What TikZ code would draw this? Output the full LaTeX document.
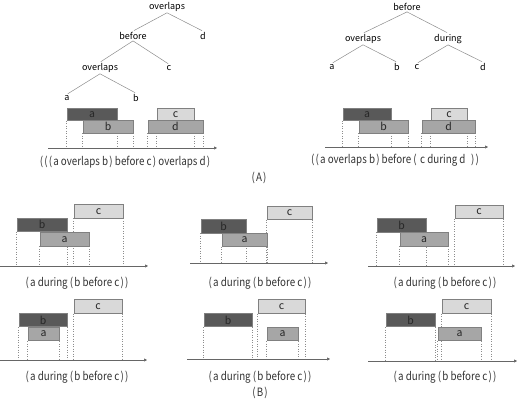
\documentclass[tikz,border=0pt]{standalone}
\usepackage{fontspec}
\setsansfont{Noto Sans CJK KR}
\newfontfamily\capfont[FakeStretch=0.85]{Noto Sans CJK KR}
\usetikzlibrary{positioning, arrows.meta, backgrounds}

\definecolor{barDark}{HTML}{595959}
\definecolor{barMid}{HTML}{A6A6A6}
\definecolor{barLight}{HTML}{D9D9D9}

\newcommand\lp{(\kern1.2pt}
\newcommand\rp{\kern1.2pt)}

\begin{document}
\begin{tikzpicture}[
  x=1pt, y=-1pt,
  font=\sffamily,
  lbl/.style={font=\sffamily\fontsize{9}{10}\selectfont, inner sep=1pt},
  tr/.style={draw=black!45, line width=0.5pt, shorten >=1pt},
  ivl/.style={draw=black!50, line width=0.6pt, minimum height=12.5pt, inner sep=0pt, font=\sffamily\fontsize{10.5}{10}\selectfont, text=black!85},
  ivlB/.style={ivl, minimum height=13.5pt},
  dk/.style={fill=barDark},
  md/.style={fill=barMid},
  lt/.style={fill=barLight},
  drop/.style={draw=black!45, dotted, line width=0.5pt},
  timeline/.style={-{Triangle[length=3pt, width=3pt]}, draw=black!60, line width=0.6pt},
  capt/.style={font=\capfont\fontsize{11.5}{12}\selectfont, text=black!80}
]
  \useasboundingbox (0,0) rectangle (519,403);

  % (A) links: baum
  \node[lbl] (lt1) at (167,7) {overlaps};
  \node[lbl] (lt2) at (133,36) {before};
  \node[lbl] (lt3) at (203,36) {d};
  \node[lbl] (lt4) at (100,68) {overlaps};
  \node[lbl] (lt5) at (169,68) {c};
  \node[lbl] (lt6) at (67,98) {a};
  \node[lbl] (lt7) at (136,98) {b};
  \draw[tr] (lt1.south) -- (lt2.north);
  \draw[tr] (lt1.south) -- (lt3.north);
  \draw[tr] (lt2.south) -- (lt4.north);
  \draw[tr] (lt2.south) -- (lt5.north);
  \draw[tr] (lt4.south) -- (lt6.north);
  \draw[tr] (lt4.south) -- (lt7.north);

  % (A) rechts: baum
  \node[lbl] (rt1) at (407,7) {before};
  \node[lbl] (rt2) at (363,39) {overlaps};
  \node[lbl] (rt3) at (448,39) {during};
  \node[lbl] (rt4) at (332,67) {a};
  \node[lbl] (rt5) at (397,67) {b};
  \node[lbl] (rt6) at (417,67) {c};
  \node[lbl] (rt7) at (483,67) {d};
  \draw[tr] (rt1.south) -- (rt2.north);
  \draw[tr] (rt1.south) -- (rt3.north);
  \draw[tr] (rt2.south) -- (rt4.north);
  \draw[tr] (rt2.south) -- (rt5.north);
  \draw[tr] (rt3.south) -- (rt6.north);
  \draw[tr] (rt3.south) -- (rt7.north);

  % (A) intervalle
  \node[ivl, dk, minimum width=50pt] (la) at (92,114.25) {a};
  \node[ivl, md, minimum width=50pt] (lb) at (108,126.75) {b};
  \node[ivl, lt, minimum width=37pt] (lc) at (175.5,114.25) {c};
  \node[ivl, md, minimum width=55pt] (ld) at (175.5,126.75) {d};
  \coordinate (l0) at (48,148);
  \coordinate (l1) at (217,148);

  \node[ivl, dk, minimum width=48pt] (ra) at (367,114.25) {a};
  \node[ivl, md, minimum width=49pt] (rb) at (383.5,126.75) {b};
  \node[ivl, lt, minimum width=36pt] (rc) at (449,114.25) {c};
  \node[ivl, md, minimum width=53pt] (rd) at (448.5,126.75) {d};
  \coordinate (r0) at (325,147);
  \coordinate (r1) at (488,147);

  \node[capt] (lcap) at (125,162) {\lp\lp\lp a overlaps b\rp{} before c\rp{} overlaps d\rp};
  \node[capt] (rcap) at (395,160) {\lp\lp a overlaps b\rp{} before \lp{} c during d \ \rp\rp};
  \node[capt] (capA) at (259,178) {\lp A\rp};

  % (B) obere reihe
  \node[ivlB, lt, minimum width=49pt] (p1c) at (98.5,211.25) {c};
  \node[ivlB, dk, minimum width=50pt] (p1b) at (42,224.75) {b};
  \node[ivlB, md, minimum width=49pt] (p1a) at (64.5,239.25) {a};
  \coordinate (p10) at (0,266);
  \coordinate (p11) at (148,266);

  \node[ivlB, lt, minimum width=45pt] (p2c) at (289.5,212.75) {c};
  \node[ivlB, dk, minimum width=45pt] (p2b) at (223.5,226.25) {b};
  \node[ivlB, md, minimum width=45pt] (p2a) at (244.5,239.75) {a};
  \coordinate (p20) at (190,263);
  \coordinate (p21) at (328,263);

  \node[ivlB, lt, minimum width=48pt] (p3c) at (479,211.75) {c};
  \node[ivlB, dk, minimum width=49pt] (p3b) at (401.5,225.25) {b};
  \node[ivlB, md, minimum width=48pt] (p3a) at (424,239.25) {a};
  \coordinate (p30) at (368,266);
  \coordinate (p31) at (515,266);

  % (B) untere reihe
  \node[ivlB, lt, minimum width=48pt] (p4c) at (98,306.5) {c};
  \node[ivlB, dk, minimum width=48pt] (p4b) at (43,320) {b};
  \node[ivlB, md, minimum width=31pt] (p4a) at (43.5,334) {a};
  \coordinate (p40) at (0,360);
  \coordinate (p41) at (147,360);

  \node[ivlB, dk, minimum width=48pt] (p5b) at (228,320) {b};
  \node[ivlB, lt, minimum width=47pt] (p5c) at (281.5,306.5) {c};
  \node[ivlB, md, minimum width=31pt] (p5a) at (282.5,334) {a};
  \coordinate (p50) at (187,359);
  \coordinate (p51) at (330,359);

  \node[ivlB, dk, minimum width=49pt] (p6b) at (410.5,320) {b};
  \node[ivlB, lt, minimum width=49pt] (p6c) at (466.5,306.5) {c};
  \node[ivlB, md, minimum width=43pt] (p6a) at (459.5,334) {a};
  \coordinate (p60) at (368,361);
  \coordinate (p61) at (517,361);

  \foreach \p/\x in {p1/77, p2/260, p3/445}
    \node[capt] (\p cap) at (\x,283) {\lp a during \lp b before c\rp\rp};
  \foreach \p/\x in {p4/77, p5/260, p6/445}
    \node[capt] (\p cap) at (\x,377) {\lp a during \lp b before c\rp\rp};
  \node[capt] (capB) at (260,393) {\lp B\rp};

  % zeitachsen
  \foreach \t in {l, r, p1, p2, p3, p4, p5, p6}
    \draw[timeline] (\t0) -- (\t1);

  % senkrechte hilfslinien
  \begin{scope}[on background layer]
    \foreach \b/\t in {la/l, lb/l, lc/l, ld/l, ra/r, rb/r, rc/r, rd/r,
        p1a/p1, p1b/p1, p1c/p1, p2a/p2, p2b/p2, p2c/p2, p3a/p3, p3b/p3, p3c/p3,
        p4a/p4, p4b/p4, p4c/p4, p5a/p5, p5b/p5, p5c/p5, p6a/p6, p6b/p6, p6c/p6} {
      \draw[drop] (\b.south west) -- (\b.south west |- \t0);
      \draw[drop] (\b.south east) -- (\b.south east |- \t0);
    }
  \end{scope}
\end{tikzpicture}
\end{document}
